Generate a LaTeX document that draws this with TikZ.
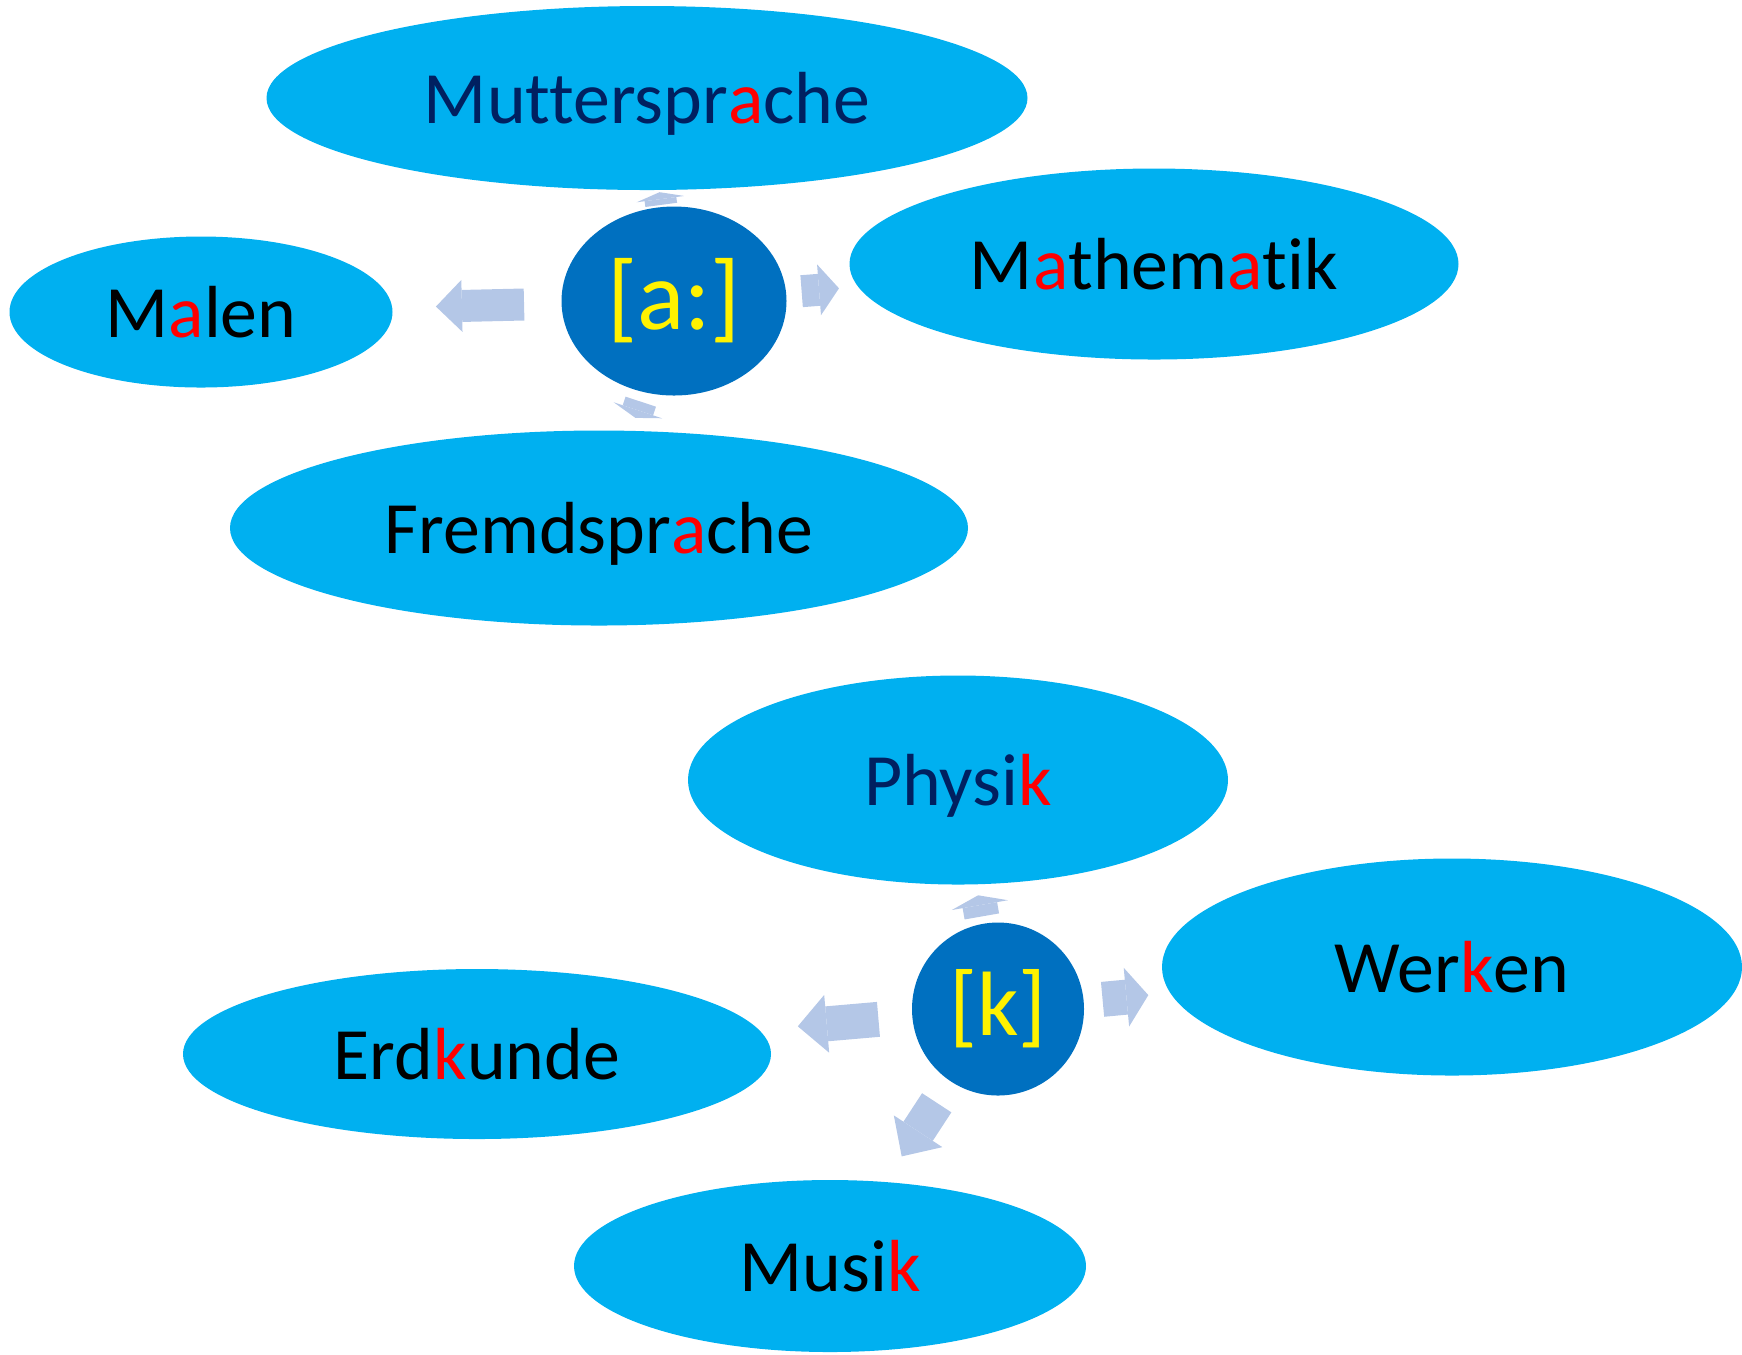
\documentclass[tikz,border=0pt]{standalone}
\usepackage{fontspec}
\setmainfont{Carlito}[Ligatures=NoCommon]
\usetikzlibrary{shapes.geometric,arrows.meta}

\definecolor{bubble}{HTML}{00B0F0}
\definecolor{hubblue}{HTML}{0070C0}
\definecolor{navy}{HTML}{002060}
\definecolor{pale}{HTML}{B4C7E7}

\newcommand{\hl}[1]{\textcolor{red}{#1}}

\begin{document}
\begin{tikzpicture}[x=0.1mm,y=-0.1mm,
    bubble/.style={ellipse,fill=bubble,inner sep=0pt,text depth=0pt,font=\fontsize{21}{25}\selectfont},
    hub/.style={ellipse,fill=hubblue,inner sep=0pt,text=yellow},
    fat/.style n args={3}{draw=pale,line width=#1,
      -{Triangle[length=#3 0 0,width=#2 0 0,line width=0pt 0 0]}}]

    \useasboundingbox (0,0) rectangle (1742,1354);

    % Vowel [a:] group
    \node[hub,minimum width=22.5mm,minimum height=18.9mm,font=\fontsize{28}{32}\selectfont] (ca) at (674,301) {[a:]};
    \node[bubble,minimum width=76.1mm,minimum height=18.4mm,text=navy] (mut) at (647,98) {Mutterspr\hl{a}che};
    \node[bubble,minimum width=60.9mm,minimum height=19.1mm] (mat) at (1154,264) {M\hl{a}them\hl{a}tik};
    \node[bubble,minimum width=38.3mm,minimum height=15.1mm] (mal) at (201,312) {M\hl{a}len};
    \node[bubble,minimum width=73.8mm,minimum height=19.5mm] (fre) at (599,528) {Fremdspr\hl{a}che};

    % Consonant [k] group
    \node[hub,minimum width=17.2mm,minimum height=17.3mm,font=\fontsize{26}{30}\selectfont] (ck) at (998,1009) {[k]};
    \node[bubble,minimum width=54mm,minimum height=20.9mm,text=navy] (phy) at (958,780) {Physi\hl{k}};
    \node[bubble,minimum width=58mm,minimum height=21.7mm] (wer) at (1452,967) {Wer\hl{k}en};
    \node[bubble,minimum width=58.8mm,minimum height=17mm] (erd) at (477,1054) {Erd\hl{k}unde};
    \node[bubble,minimum width=51.2mm,minimum height=17.2mm] (mus) at (830,1266) {Musi\hl{k}};

    % Arrows out of [a:]
    \draw[fat={3.2mm}{5.2mm}{2.6mm},shorten <=15mm,shorten >=23.5mm] (ca.center) -- (mal.center);
    \draw[fat={3.2mm}{5.1mm}{2mm},shorten <=12.8mm,shorten >=31.6mm] (ca.center) -- (mat.center);
    \draw[fat={3.2mm}{4.8mm}{0.7mm},shorten <=9.7mm,shorten >=9.5mm] (ca.center) -- (mut.center);
    \draw[fat={3.2mm}{5.1mm}{0.8mm},shorten <=10.6mm,shorten >=11.6mm] (ca.center) -- (fre.center);

    % Arrows out of [k]
    \draw[fat={3.5mm}{5.7mm}{1mm},shorten <=9.4mm,shorten >=11.7mm] (ck.center) -- (phy.center);
    \draw[fat={3.5mm}{5.9mm}{2.2mm},shorten <=10.5mm,shorten >=30.5mm] (ck.center) -- (wer.center);
    \draw[fat={3.5mm}{5.8mm}{2.9mm},shorten <=12mm,shorten >=32.2mm] (ck.center) -- (erd.center);
    \draw[fat={3.5mm}{5.8mm}{3mm},shorten <=11.2mm,shorten >=13.1mm] (ck.center) -- (mus.center);

\end{tikzpicture}
\end{document}
